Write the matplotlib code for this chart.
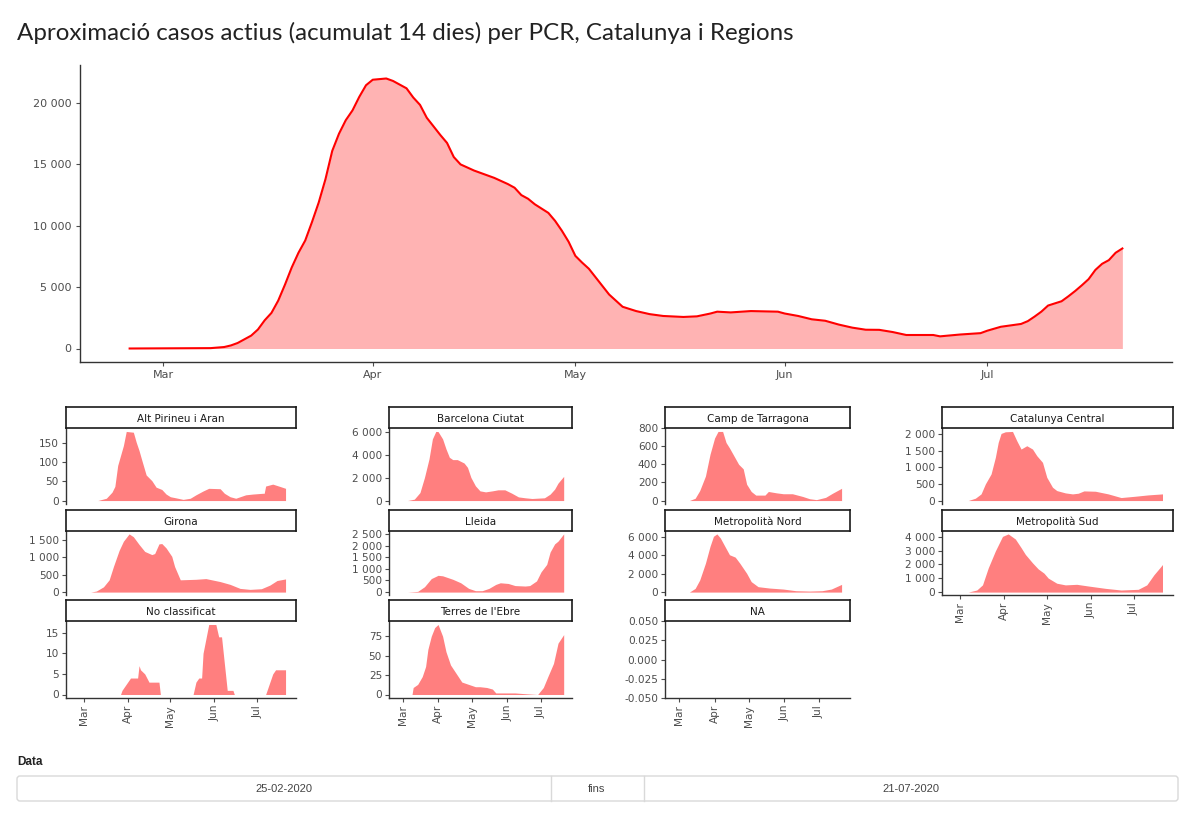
import matplotlib
matplotlib.use("Agg")
import matplotlib.pyplot as plt
import matplotlib.dates as mdates
from matplotlib.patches import FancyBboxPatch
from matplotlib.ticker import FuncFormatter, FixedLocator
import pandas as pd

# --- data (dates are 2020, "MM-DD") ---
cat_dates = ["02-25", "03-08", "03-10", "03-11", "03-12", "03-13", "03-14", "03-15", "03-16",
             "03-17", "03-18", "03-19", "03-20", "03-21", "03-22", "03-23", "03-24", "03-25",
             "03-26", "03-27", "03-28", "03-29", "03-30", "03-31", "04-01", "04-03", "04-04",
             "04-06", "04-07", "04-08", "04-09", "04-10", "04-11", "04-12", "04-13", "04-14",
             "04-15", "04-16", "04-17", "04-19", "04-20", "04-21", "04-22", "04-23", "04-24",
             "04-25", "04-26", "04-27", "04-28", "04-29", "04-30", "05-01", "05-02", "05-03",
             "05-04", "05-05", "05-06", "05-07", "05-08", "05-10", "05-12", "05-14", "05-17",
             "05-19", "05-21", "05-22", "05-24", "05-27", "05-31", "06-01", "06-03", "06-05",
             "06-07", "06-09", "06-11", "06-13", "06-15", "06-17", "06-19", "06-23", "06-24",
             "06-27", "06-30", "07-01", "07-03", "07-06", "07-07", "07-08", "07-09", "07-10",
             "07-12", "07-13", "07-14", "07-15", "07-16", "07-17", "07-18", "07-19", "07-20",
             "07-21"]
cat_values = [0, 30, 120, 250, 450, 750, 1050, 1550, 2300,
              2900, 3900, 5200, 6600, 7800, 8800, 10300, 11900, 13800,
              16100, 17500, 18600, 19400, 20500, 21450, 21900, 22000, 21800,
              21200, 20450, 19850, 18800, 18100, 17400, 16750, 15600, 15000,
              14750, 14500, 14300, 13900, 13650, 13400, 13100, 12500, 12200,
              11750, 11400, 11050, 10400, 9600, 8700, 7550, 7000, 6500,
              5800, 5100, 4400, 3900, 3400, 3050, 2800, 2650, 2570,
              2620, 2850, 3000, 2940, 3050, 3000, 2850, 2650, 2380,
              2260, 1950, 1700, 1530, 1520, 1340, 1100, 1100, 990,
              1140, 1250, 1450, 1770, 2000, 2230, 2600, 3000, 3500,
              3850, 4250, 4680, 5150, 5650, 6400, 6900, 7200, 7800,
              8150]

alt_dates = ["02-25", "03-11", "03-17", "03-21", "03-23", "03-25", "03-27", "03-29", "03-31",
             "04-05", "04-07", "04-09", "04-11", "04-14", "04-18", "04-21", "04-25", "04-28",
             "05-01", "05-05", "05-10", "05-15", "05-19", "05-24", "05-28", "06-05", "06-08",
             "06-12", "06-16", "06-23", "06-28", "07-05", "07-06", "07-07", "07-12", "07-17",
             "07-21"]
alt_values = [0, 0, 6, 22, 37, 92, 118, 144, 181,
              179, 153, 131, 105, 67, 52, 35, 29, 17,
              10, 7, 3, 6, 15, 25, 32, 31, 19,
              10, 6, 15, 17, 19, 19, 38, 43, 37,
              32]

bcn_dates = ["02-25", "03-05", "03-11", "03-16", "03-20", "03-24", "03-27", "03-30", "04-01",
             "04-05", "04-08", "04-11", "04-14", "04-18", "04-24", "04-27", "04-30", "05-04",
             "05-08", "05-13", "05-19", "05-24", "05-30", "06-05", "06-11", "06-17", "06-23",
             "07-04", "07-09", "07-13", "07-16", "07-21"]
bcn_values = [0, 0, 120, 700, 2030, 3650, 5410, 6060, 6050,
              5410, 4530, 3790, 3590, 3590, 3290, 2910, 2030, 1290,
              850, 760, 850, 940, 940, 650, 320, 240, 180,
              240, 560, 1000, 1530, 2120]

tgn_dates = ["02-25", "03-10", "03-15", "03-19", "03-24", "03-28", "04-01", "04-04", "04-08",
             "04-11", "04-14", "04-18", "04-22", "04-26", "04-29", "05-03", "05-07", "05-15",
             "05-18", "05-25", "05-31", "06-08", "06-17", "06-23", "06-29", "07-07", "07-13",
             "07-21"]
tgn_values = [0, 0, 25, 110, 270, 510, 690, 762, 762,
              640, 580, 490, 400, 350, 180, 100, 60, 60,
              100, 85, 75, 75, 45, 20, 10, 35, 80,
              135]

ccen_dates = ["02-25", "03-07", "03-12", "03-16", "03-19", "03-23", "03-26", "03-28", "03-30",
              "04-02", "04-07", "04-10", "04-13", "04-17", "04-21", "04-24", "04-28", "05-01",
              "05-05", "05-08", "05-14", "05-19", "05-23", "05-27", "06-04", "06-13", "06-22",
              "07-02", "07-11", "07-21"]
ccen_values = [0, 0, 70, 200, 500, 800, 1300, 1750, 2020,
               2070, 2080, 1800, 1550, 1650, 1550, 1350, 1150, 700,
               400, 300, 230, 200, 220, 290, 280, 200, 90,
               130, 170, 200]

gir_dates = ["02-25", "03-06", "03-10", "03-15", "03-19", "03-22", "03-26", "03-29", "04-02",
             "04-05", "04-09", "04-13", "04-18", "04-20", "04-23", "04-25", "04-28", "05-02",
             "05-04", "05-08", "05-19", "05-26", "06-05", "06-12", "06-19", "06-26", "07-04",
             "07-10", "07-15", "07-21"]
gir_values = [0, 0, 30, 150, 350, 730, 1190, 1450, 1660,
              1580, 1360, 1160, 1070, 1100, 1375, 1385, 1260, 1020,
              730, 350, 365, 385, 300, 220, 105, 77, 96,
              200, 330, 375]

lle_dates = ["02-25", "03-05", "03-14", "03-20", "03-26", "04-01", "04-05", "04-14", "04-21",
             "04-28", "05-04", "05-10", "05-16", "05-22", "05-26", "06-02", "06-08", "06-17",
             "06-21", "06-27", "07-01", "07-06", "07-09", "07-13", "07-16", "07-21"]
lle_values = [0, 0, 30, 230, 580, 720, 700, 550, 400,
              160, 60, 60, 160, 330, 400, 370, 280, 260,
              280, 480, 870, 1190, 1720, 2070, 2190, 2500]

mnord_dates = ["02-25", "03-10", "03-15", "03-19", "03-24", "03-28", "03-31", "04-03", "04-06",
               "04-10", "04-14", "04-19", "04-23", "04-29", "05-03", "05-09", "05-19", "05-31",
               "06-11", "06-23", "07-04", "07-12", "07-21"]
mnord_values = [0, 0, 400, 1320, 3150, 4980, 6080, 6340, 5900,
                4980, 4070, 3810, 3150, 2050, 1140, 590, 440, 330,
                150, 110, 150, 330, 840]

msud_dates = ["02-25", "03-07", "03-13", "03-17", "03-21", "03-26", "03-31", "04-04", "04-09",
              "04-13", "04-16", "04-21", "04-25", "04-29", "05-02", "05-08", "05-14", "05-22",
              "05-30", "06-11", "06-22", "07-04", "07-10", "07-15", "07-19", "07-21"]
msud_values = [0, 0, 150, 520, 1740, 2970, 4020, 4200, 3830,
               3210, 2720, 2110, 1670, 1370, 1010, 640, 520, 560,
               440, 270, 150, 200, 520, 1250, 1740, 1990]

nocl_dates = ["02-25", "03-27", "03-28", "03-30", "04-01", "04-03", "04-08", "04-09", "04-10",
              "04-13", "04-16", "04-23", "04-24", "05-17", "05-19", "05-21", "05-23", "05-24",
              "05-28", "06-02", "06-04", "06-06", "06-10", "06-14", "06-15", "07-07", "07-09",
              "07-12", "07-14", "07-21"]
nocl_values = [0, 0, 1, 2, 3, 4, 4, 7, 6,
               5, 3, 3, 0, 0, 3, 4, 4, 10,
               17, 17, 14, 14, 1, 1, 0, 0, 2,
               5, 6, 6]

ebre_dates = ["02-25", "03-09", "03-10", "03-14", "03-18", "03-21", "03-23", "03-26", "03-29",
              "04-01", "04-05", "04-08", "04-12", "04-17", "04-22", "04-28", "05-04", "05-08",
              "05-14", "05-19", "05-22", "05-30", "06-08", "06-17", "06-28", "07-03", "07-07",
              "07-12", "07-16", "07-21"]
ebre_values = [0, 0, 9, 13, 23, 36, 58, 75, 86,
               90, 75, 55, 38, 27, 16, 13, 10, 10,
               9, 7, 2, 2, 2, 1, 0, 9, 23,
               40, 66, 77]

# facet order (facet_wrap, 4 columns) with the y ticks shown in each panel
regions = [
    ("Alt Pirineu i Aran", alt_dates, alt_values, [0, 50, 100, 150]),
    ("Barcelona Ciutat", bcn_dates, bcn_values, [0, 2000, 4000, 6000]),
    ("Camp de Tarragona", tgn_dates, tgn_values, [0, 200, 400, 600, 800]),
    ("Catalunya Central", ccen_dates, ccen_values, [0, 500, 1000, 1500, 2000]),
    ("Girona", gir_dates, gir_values, [0, 500, 1000, 1500]),
    ("Lleida", lle_dates, lle_values, [0, 500, 1000, 1500, 2000, 2500]),
    ("Metropolità Nord", mnord_dates, mnord_values, [0, 2000, 4000, 6000]),
    ("Metropolità Sud", msud_dates, msud_values, [0, 1000, 2000, 3000, 4000]),
    ("No classificat", nocl_dates, nocl_values, [0, 5, 10, 15]),
    ("Terres de l'Ebre", ebre_dates, ebre_values, [0, 25, 50, 75]),
    ("NA", [], [], [-0.05, -0.025, 0.0, 0.025, 0.05]),
]

date_from = "25-02-2020"
date_to = "21-07-2020"


def to_dates(lst):
    return pd.to_datetime(["2020-" + d for d in lst])


def thousands(v, _pos):
    return f"{v:,.0f}".replace(",", " ")


def decimals(v, _pos):
    return f"{v:.3f}"


# --- figure layout, in pixels of a 1200x819 canvas ---
W, H = 1200, 819


def px_box(l, t, r, b):
    return [l / W, 1 - b / H, (r - l) / W, (b - t) / H]


fig = plt.figure(figsize=(12, 8.19), dpi=100)
tick_col = "#4d4d4d"
spine_col = "#333333"

# background layer for title and the date table
bg = fig.add_axes([0, 0, 1, 1])
bg.set_xlim(0, W)
bg.set_ylim(H, 0)
bg.axis("off")
bg.text(17, 33, "Aproximació casos actius (acumulat 14 dies) per PCR, Catalunya i Regions",
        family=["Lato", "DejaVu Sans"], fontweight="normal", fontsize=17.4,
        color="#222222", va="center", ha="left")
bg.text(17, 762, "Data", family="Liberation Sans", fontweight="bold", fontsize=8.5,
        color="#222222", va="center")
bg.add_patch(FancyBboxPatch((17, 776), 1161, 25, boxstyle="round,pad=0,rounding_size=3",
                            fc="white", ec="#d9d9d9", lw=1))
for xdiv in (551, 644):
    bg.plot([xdiv, xdiv], [776, 801], color="#d9d9d9", lw=1)
for xc, txt in ((284, date_from), (597, "fins"), (911, date_to)):
    bg.text(xc, 789, txt, family="Liberation Sans", fontsize=8, color="#444444",
            ha="center", va="center")

# --- main chart ---
cat_d = to_dates(cat_dates)
pad = (cat_d.max() - cat_d.min()) * 0.05
xlo, xhi = cat_d.min() - pad, cat_d.max() + pad

ax = fig.add_axes(px_box(80, 65, 1172, 362))
ax.fill_between(cat_d, cat_values, color="#ffb3b3", lw=0)
ax.plot(cat_d, cat_values, color="#ff0000", lw=1.5)
ax.set_xlim(xlo, xhi)
ymax = max(cat_values)
ax.set_ylim(-0.05 * ymax, 1.05 * ymax)
ax.yaxis.set_major_locator(FixedLocator([0, 5000, 10000, 15000, 20000]))
ax.yaxis.set_major_formatter(FuncFormatter(thousands))
ax.xaxis.set_major_locator(mdates.MonthLocator())
ax.xaxis.set_major_formatter(mdates.DateFormatter("%b"))
ax.tick_params(labelsize=8, colors=tick_col, length=3, width=0.8, pad=3)
ax.spines["top"].set_visible(False)
ax.spines["right"].set_visible(False)
for s in ("left", "bottom"):
    ax.spines[s].set_color(spine_col)
    ax.spines[s].set_linewidth(1.0)

# --- small multiples ---
cols = [(66, 296), (389, 572), (665, 850), (942, 1173)]
rows = [(407, 428, 504), (510, 531, 595), (600, 621, 698)]
n_cols = len(cols)
n_total = len(regions)

for i, (name, dl, vals, yt) in enumerate(regions):
    r, c = divmod(i, n_cols)
    l, rr = cols[c]
    st, sb, pb = rows[r]
    is_bottom = (i + n_cols) >= n_total

    axp = fig.add_axes(px_box(l, sb, rr, pb))
    if vals:
        axp.fill_between(to_dates(dl), vals, color="#ff7f7f", lw=0)
        m = max(vals)
        axp.set_ylim(-0.05 * m, 1.05 * m)
        axp.yaxis.set_major_formatter(FuncFormatter(thousands))
    else:
        axp.set_ylim(-0.05, 0.05)
        axp.yaxis.set_major_formatter(FuncFormatter(decimals))
    axp.yaxis.set_major_locator(FixedLocator(yt))
    axp.set_xlim(xlo, xhi)
    axp.spines["top"].set_visible(False)
    axp.spines["right"].set_visible(False)
    axp.spines["left"].set_color(spine_col)
    axp.spines["left"].set_linewidth(1.0)
    axp.tick_params(labelsize=7.6, colors=tick_col, length=3, width=0.8, pad=2)
    if is_bottom:
        axp.spines["bottom"].set_color(spine_col)
        axp.spines["bottom"].set_linewidth(1.0)
        axp.xaxis.set_major_locator(mdates.MonthLocator())
        axp.xaxis.set_major_formatter(mdates.DateFormatter("%b"))
        for lab in axp.get_xticklabels():
            lab.set_rotation(90)
    else:
        axp.spines["bottom"].set_visible(False)
        axp.set_xticks([])

    axs = fig.add_axes(px_box(l, st, rr, sb))
    axs.set_xticks([])
    axs.set_yticks([])
    for s in axs.spines.values():
        s.set_color("#1a1a1a")
        s.set_linewidth(1.2)
    axs.text(0.5, 0.42, name, ha="center", va="center", fontsize=7.5, color="#1a1a1a",
             transform=axs.transAxes)

fig.savefig("out.png", dpi=100)
